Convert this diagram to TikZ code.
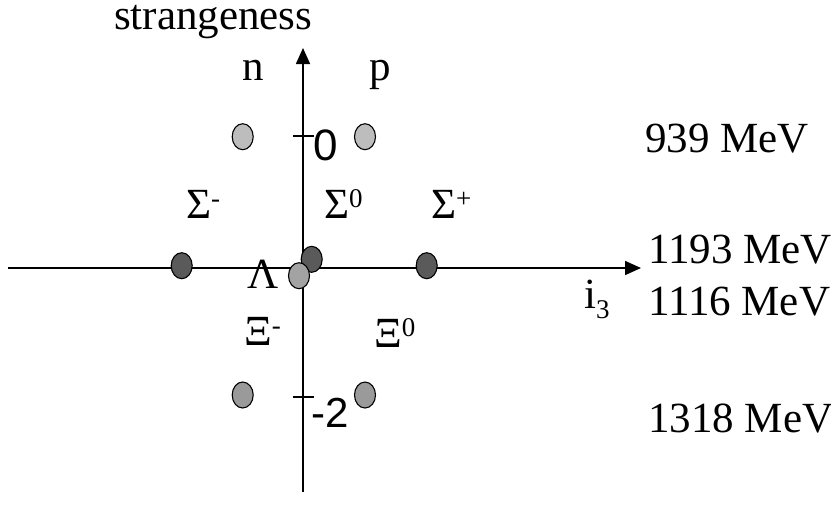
\documentclass[tikz,border=0pt]{standalone}
\usepackage{fontspec}
\setmainfont{Liberation Serif}
\newfontfamily\arialfont{Liberation Sans}
\usetikzlibrary{shapes.geometric,arrows.meta}
\newcommand\mysup[1]{\raisebox{11pt}{\fontsize{27}{30}\selectfont #1}}
\newcommand\mysub[1]{\raisebox{-10pt}{\fontsize{27}{30}\selectfont #1}}
\definecolor{lightp}{HTML}{BDBDBD}
\definecolor{midp}{HTML}{A3A3A3}
\definecolor{xip}{HTML}{9A9A9A}
\definecolor{darkp}{HTML}{5A5A5A}
\begin{document}
\begin{tikzpicture}[x=1pt,y=-1pt,
  axis/.style={line width=1.6pt,-{Triangle[length=16pt,width=14pt]}},
  tick/.style={line width=1.3pt},
  particle/.style={ellipse,draw,line width=1.1pt,minimum width=21pt,minimum height=26pt,inner sep=0pt},
  lbl/.style={anchor=base west,inner sep=0pt,font=\fontsize{43}{48}\selectfont},
  num/.style={anchor=base west,inner sep=0pt,font=\arialfont\fontsize{44}{48}\selectfont}]
\useasboundingbox (0,0) rectangle (831,515);
\fill[white] (0,0) rectangle (831,515);
% axes
\coordinate (yb) at (303,492);
\coordinate (yt) at (303,48);
\coordinate (xl) at (8,268);
\coordinate (xr) at (641,268);
\draw[axis] (yb) -- (yt);
\draw[axis] (xl) -- (xr);
% ticks
\coordinate (t0a) at (293,136);
\coordinate (t0b) at (314,136);
\coordinate (t2a) at (293,397);
\coordinate (t2b) at (314,397);
\draw[tick] (t0a) -- (t0b);
\draw[tick] (t2a) -- (t2b);
% tick labels
\node[num] (zero) at (313,160) {0};
\node[num,font=\arialfont\fontsize{42}{48}\selectfont] (mtwo) at (311,427) {-2};
% particles
\node[particle,fill=lightp] (n) at (242.7,136.7) {};
\node[particle,fill=lightp] (p) at (365,136.7) {};
\node[particle,fill=darkp] (sm) at (181.7,265.7) {};
\node[particle,fill=darkp] (sp) at (426.7,265.7) {};
\node[particle,fill=darkp] (s0) at (311.7,259.3) {};
\node[particle,fill=midp] (lam) at (299,275.7) {};
\node[particle,fill=xip] (xm) at (242.7,395) {};
\node[particle,fill=xip] (x0) at (365,395) {};
% labels
\node[lbl] (tstr) at (114,29) {strangeness};
\node[lbl] (tn) at (242,80) {n};
\node[lbl] (tp) at (369,80) {p};
\node[lbl] (tsm) at (186,218) {Σ\mysup{-}};
\node[lbl] (ts0) at (324,218) {Σ\mysup{0}};
\node[lbl] (tsp) at (431,218) {Σ\mysup{+}};
\node[lbl] (tlam) at (247,288) {Λ};
\node[lbl] (txm) at (244,345) {Ξ\mysup{-}};
\node[lbl] (tx0) at (374,347) {Ξ\mysup{0}};
\node[lbl] (ti3) at (584,308) {i\mysub{3}};
% masses
\node[lbl] (m939) at (645,152) {939 MeV};
\node[lbl] (m1193) at (648,263) {1193 MeV};
\node[lbl] (m1116) at (648,315) {1116 MeV};
\node[lbl] (m1318) at (648,432) {1318 MeV};
\end{tikzpicture}
\end{document}
